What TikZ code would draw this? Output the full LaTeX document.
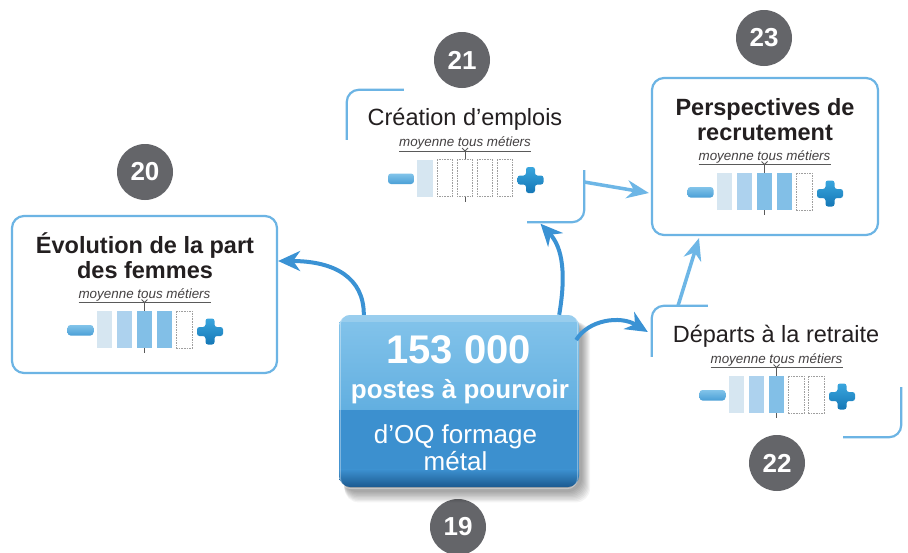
\documentclass[tikz,border=0pt]{standalone}
\usepackage{fontspec}
\setmainfont{Liberation Sans}
\usetikzlibrary{arrows.meta,calc}
\definecolor{frameblue}{HTML}{6CB4E4}
\definecolor{darkarrow}{HTML}{3A92D4}
\definecolor{lightarrow}{HTML}{6DB6E6}
\definecolor{badgegray}{HTML}{646569}
\definecolor{barA}{HTML}{D6E6F1}
\definecolor{barB}{HTML}{ADD2EE}
\definecolor{barC}{HTML}{82BFE7}
\definecolor{txt}{HTML}{231F20}
\definecolor{lgray}{HTML}{5A5A5A}
\definecolor{minusT}{HTML}{82C4EA}
\definecolor{minusB}{HTML}{4A9FD6}
\definecolor{plusT}{HTML}{3AA6DE}
\definecolor{plusB}{HTML}{1577B6}
\definecolor{boxT}{HTML}{84C4EB}
\definecolor{boxM}{HTML}{62AFE0}
\definecolor{boxD}{HTML}{3C90CF}
\definecolor{boxDD}{HTML}{1C5A90}
\tikzset{
  frame/.style={draw=frameblue, line width=2.2pt},
  badge/.style={circle, fill=badgegray, minimum size=56pt, inner sep=0pt,
    text=white, font=\bfseries\fontsize{26}{26}\selectfont},
  btitle/.style={text=txt, inner sep=0pt, font=\bfseries\fontsize{23.5}{25}\selectfont},
  rtitle/.style={text=txt, inner sep=0pt, font=\fontsize{23.5}{25}\selectfont},
  moy/.style={text=txt!85, inner sep=0pt, font=\itshape\fontsize{13.4}{14}\selectfont},
  uline/.style={draw=lgray, line width=0.8pt},
  bA/.style={fill=barA},
  bB/.style={fill=barB},
  bC/.style={fill=barC},
  bE/.style={fill=white, draw=gray!75, line width=0.6pt, dash pattern=on 1.6pt off 1pt},
  minusicon/.style={rounded corners=3pt, top color=minusT, bottom color=minusB},
  plusicon/.style={rounded corners=2.5pt, top color=plusT, bottom color=plusB},
  darrow/.style={draw=darkarrow, line width=4pt,
    -{Stealth[length=22pt, width=20pt, inset=7pt]}},
  larrow/.style={draw=lightarrow, line width=3.5pt,
    -{Stealth[length=22pt, width=18pt, inset=7pt]}},
  whitetxt/.style={text=white, inner sep=0pt},
}
% #1 prefix, #2 x, #3 baseline y, #4-#8 bar styles
\newcommand{\jauge}[8]{%
  \begin{scope}[shift={(#2,#3)}]
    \node[moy, anchor=base] (#1m) at (0,0) {moyenne tous métiers};
    \draw[uline] (-66,4.5) -- (66,4.5);
    \draw[uline] (-3,1.5) -- (0,4.5) -- (3,1.5);
    \draw[uline] (0,4.5) -- (0,55);
    \path[#4] (-47.75,13) rectangle (-32.25,50);
    \path[#5] (-27.75,13) rectangle (-12.25,50);
    \path[#6] (-7.75,13) rectangle (7.75,50);
    \path[#7] (12.25,13) rectangle (27.75,50);
    \path[#8] (32.25,13) rectangle (47.75,50);
    \path[minusicon] (-77,27) rectangle (-51,37.5);
    \path[plusicon] (52.5,29) -- (61,29) -- (61,20.5) -- (70,20.5) -- (70,29)
      -- (78.5,29) -- (78.5,38) -- (70,38) -- (70,46.5) -- (61,46.5) -- (61,38)
      -- (52.5,38) -- cycle;
  \end{scope}}
\begin{document}
\begin{tikzpicture}[x=1pt,y=-1pt]
\useasboundingbox (0,0) rectangle (908,552);
\fill[white] (0,0) rectangle (908,552);

% ---------- frames ----------
\node[frame, rounded corners=12pt, minimum width=265pt, minimum height=157pt, inner sep=0pt]
  (b20) at (144.5,294.5) {};
\node[frame, rounded corners=12pt, minimum width=226pt, minimum height=157pt, inner sep=0pt]
  (b23) at (765,156.5) {};
\node[minimum width=237pt, minimum height=132pt, inner sep=0pt] (b21) at (465.5,156) {};
\node[minimum width=249pt, minimum height=131pt, inner sep=0pt] (b22) at (776.5,371.5) {};
\draw[frame, rounded corners=12pt] ([yshift=-50pt]b21.north west) -- (b21.north west)
  -- ([xshift=57pt]b21.north west);
\draw[frame, rounded corners=12pt] ([yshift=52pt]b21.south east) -- (b21.south east)
  -- ([xshift=-57pt]b21.south east);
\draw[frame, rounded corners=12pt] ([yshift=-51pt]b22.north west) -- (b22.north west)
  -- ([xshift=56pt]b22.north west);
\draw[frame, rounded corners=12pt] ([yshift=50pt]b22.south east) -- (b22.south east)
  -- ([xshift=-58pt]b22.south east);

% ---------- badges ----------
\node[badge] (n20) at (145,172) {20};
\node[badge] (n21) at (462,60) {21};
\node[badge] (n23) at (764,38) {23};
\node[badge] (n22) at (777,463) {22};
\node[badge] (n19) at (458,527) {19};

% ---------- titles ----------
\node[btitle, anchor=base] (t20a) at (145,253) {Évolution de la part};
\node[btitle, anchor=base] (t20b) at (145,278) {des femmes};
\node[rtitle, anchor=base] (t21) at (465,125) {Création d’emplois};
\node[btitle, anchor=base] (t23a) at (765,115) {Perspectives de};
\node[btitle, anchor=base] (t23b) at (765,140) {recrutement};
\node[rtitle, anchor=base] (t22) at (776,342) {Départs à la retraite};

% ---------- gauges ----------
\jauge{g20}{144.5}{298}{bA}{bB}{bC}{bC}{bE}
\jauge{g21}{465}{146.5}{bA}{bE}{bE}{bE}{bE}
\jauge{g23}{764.5}{160}{bA}{bB}{bC}{bC}{bE}
\jauge{g22}{776.5}{363}{bA}{bB}{bC}{bE}{bE}

% ---------- central box ----------
\foreach \k in {0,...,8}
  \fill[black, opacity=0.045, rounded corners=14pt]
    (343+0.2*\k,322) rectangle (582+\k,492+\k*1.3);
\node[minimum width=240pt, minimum height=172pt, inner sep=0pt] (c) at (459,401) {};
\begin{scope}
  \clip[rounded corners=12pt] (c.north west) rectangle (c.south east);
  \path[top color=boxT, bottom color=boxM] (339,315) rectangle (579,410);
  \fill[boxD] (339,410) rectangle (579,470);
  \path[top color=boxD, bottom color=boxDD] (339,469.5) rectangle (579,487);
  \fill[white, opacity=0.18] (339,315) rectangle (579,322);
\end{scope}
\draw[white, opacity=0.35, line width=1pt, rounded corners=11pt]
  ([shift={(1.5,-1.5)}]c.north west) rectangle ([shift={(-1.5,1.5)}]c.south east);
\node[whitetxt, anchor=base, font=\bfseries\fontsize{40}{40}\selectfont] (c1) at (458.5,363) {153 000};
\node[whitetxt, anchor=base, font=\bfseries\fontsize{26}{26}\selectfont] (c2) at (460,398) {postes à pourvoir};
\node[whitetxt, anchor=base, font=\fontsize{26}{26}\selectfont] (c3) at (455.5,443) {d’OQ formage};
\node[whitetxt, anchor=base, font=\fontsize{26}{26}\selectfont] (c4) at (455.5,470) {métal};

% ---------- arrows ----------
\draw[darrow] ([xshift=25pt]c.north west) .. controls (364,278) and (335,261) .. ([yshift=33.5pt]b20.east);
\draw[darrow] ([xshift=-20pt]c.north east) .. controls (566,275) and (563,248) .. ([xshift=75pt,yshift=-1.5pt]b21.south);
\draw[darrow] ([xshift=-3pt,yshift=61pt]c.east) .. controls (588,320) and (620,315) .. ([xshift=-4pt,yshift=39.5pt]b22.west);
\draw[larrow] ([yshift=-26pt]b21.east) -- ([xshift=-2pt,yshift=-36.5pt]b23.west);
\draw[larrow] ([xshift=-98.5pt]b22.north) -- ([xshift=-66pt,yshift=-2pt]b23.south);
\end{tikzpicture}
\end{document}
